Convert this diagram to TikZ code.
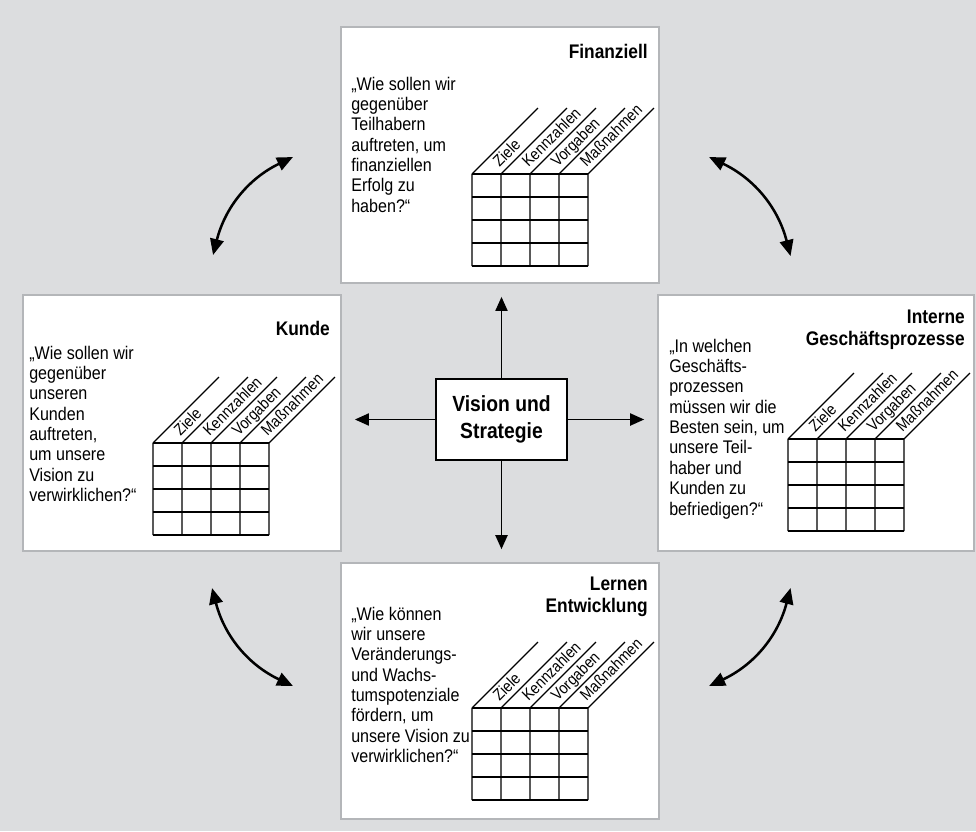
\documentclass[tikz,border=0pt]{standalone}
\usepackage{fontspec}
\setmainfont{Liberation Sans}[FakeStretch=0.88]
\usetikzlibrary{arrows.meta}

\definecolor{backgray}{RGB}{220,221,223}
\definecolor{framegray}{RGB}{180,182,185}

\begin{document}
\begin{tikzpicture}[
  x=0.025cm, y=-0.025cm,
  every node/.style={inner sep=0pt},
  panel/.style={draw=framegray, line width=0.05cm, fill=white, anchor=north west,
    minimum width=7.95cm, minimum height=6.4cm},
  headline/.style={anchor=base east, font=\bfseries\fontsize{14}{16.2}\selectfont},
  question/.style={anchor=base west, font=\fontsize{13}{14.5}\selectfont},
  colhead/.style={anchor=base west, rotate=45, font=\fontsize{11.5}{12}\selectfont},
  spoke/.style={-{Triangle[length=0.35cm,width=0.3cm]}, line width=1.4pt, shorten >=0.32cm},
  swing/.style={{Triangle[length=0.4cm,width=0.34cm]}-{Triangle[length=0.4cm,width=0.34cm]},
    line width=1.8pt},
  kpigrid/.pic={
    \foreach \c in {0,...,4}
      \draw[line width=0.8pt] (\c*29,0) -- (\c*29,92) (\c*29,0) -- ++(66,-66);
    \foreach \r in {0,...,4}
      \draw[line width=0.8pt] (0,\r*23) -- (116,\r*23);
    \foreach \lbl [count=\i] in {Ziele,Kennzahlen,Vorgaben,Maßnahmen}
      \node[colhead] (-l\i) at (\i*29-1.5,-6) {\lbl};
  }
]
% background
\fill[backgray] (0,0) rectangle (976,831);

% the four perspectives
\node[panel] (fin) at (340,26) {};
\node[headline] (fin-t) at (648,58) {Finanziell};
\node[question] (fin-q) at (351,90) {\parbox[t]{4cm}{\raggedright
  „Wie sollen wir\\gegenüber\\Teilhabern\\auftreten, um\\finanziellen\\Erfolg zu\\haben?“}};
\pic (fin-g) at (472,174) {kpigrid};

\node[panel] (kunde) at (22,294) {};
\node[headline] (kunde-t) at (330,335) {Kunde};
\node[question] (kunde-q) at (29,359) {\parbox[t]{4cm}{\raggedright
  „Wie sollen wir\\gegenüber\\unseren\\Kunden\\auftreten,\\um unsere\\Vision zu\\verwirklichen?“}};
\pic (kunde-g) at (153,443) {kpigrid};

\node[panel, minimum width=7.9cm] (intern) at (657,294) {};
\node[headline] (intern-t) at (965,323) {\parbox[t]{6cm}{\raggedleft
  Interne\\Geschäftsprozesse}};
\node[question] (intern-q) at (669,352) {\parbox[t]{4cm}{\raggedright
  „In welchen\\Geschäfts-\\prozessen\\müssen wir die\\Besten sein, um\\unsere Teil-\\haber und\\Kunden zu\\befriedigen?“}};
\pic (intern-g) at (788,439) {kpigrid};

\node[panel] (lernen) at (340,562) {};
\node[headline] (lernen-t) at (648,590) {\parbox[t]{6cm}{\raggedleft
  Lernen\\Entwicklung}};
\node[question] (lernen-q) at (351,620) {\parbox[t]{4cm}{\raggedright
  „Wie können\\wir unsere\\Veränderungs-\\und Wachs-\\tumspotenziale\\fördern, um\\unsere Vision zu\\verwirklichen?“}};
\pic (lernen-g) at (472,708) {kpigrid};

% centre
\node[draw, line width=1.4pt, fill=white, minimum width=3.275cm, minimum height=2.025cm,
  align=center, font=\bfseries\fontsize{15.6}{19}\selectfont] (vision) at (501.5,419.5)
  {Vision und\\Strategie};

\draw[spoke] (vision.north) -- (vision.north |- fin.south);
\draw[spoke] (vision.south) -- (vision.south |- lernen.north);
\draw[spoke] (vision.west) -- (vision.west -| kunde.east);
\draw[spoke] (vision.east) -- (vision.east -| intern.west);

% links between neighbours
\draw[swing] ([shift={(31,-39)}]kunde.north) to[bend left=25] ([shift={(-47,2)}]fin.west);
\draw[swing] ([shift={(49,2)}]fin.east) to[bend left=25] ([shift={(-25.5,-38)}]intern.north);
\draw[swing] ([shift={(30,36)}]kunde.south) to[bend right=25] ([shift={(-47,-5)}]lernen.west);
\draw[swing] ([shift={(-25.5,36)}]intern.south) to[bend left=25] ([shift={(49,-5)}]lernen.east);
\end{tikzpicture}
\end{document}
